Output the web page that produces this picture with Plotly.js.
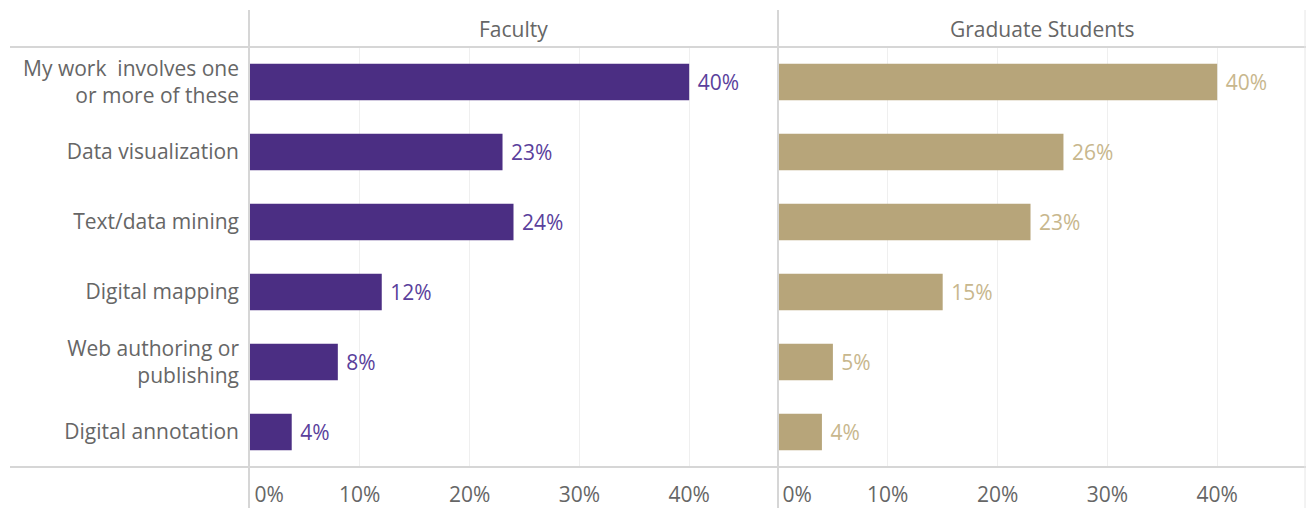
<!DOCTYPE html>
<html>
<head>
<meta charset="utf-8">
<script src="https://cdn.plot.ly/plotly-3.0.1.min.js"></script>
<style>html,body{margin:0;padding:0;background:#fff;}#chart{width:1308px;height:508px;}</style>
</head>
<body>
<div id="chart"></div>
<script>
const categories = ["My work  involves one<br>or more of these", "Data visualization", "Text/data mining", "Digital mapping", "Web authoring or<br>publishing", "Digital annotation"];
const panels = ["Faculty", "Graduate Students"];
const facultyValues = [40, 23, 24, 12, 8, 3.8];
const gradValues = [40, 26, 23, 15, 5, 4];
const tickValues = [0, 10, 20, 30, 40];
const tickLabels = ["\u00a0\u00a0\u00a0\u00a0\u00a0\u00a0\u00a00%", "10%", "20%", "30%", "40%"];

const FONT = "Open Sans, sans-serif";
const GRAY = "#666666";
const LINE = "#d6d6d6";
const FS = 21;

function pct(v){ return "\u00a0" + Math.round(v) + "%"; }

const traces = [
  {type:"bar", orientation:"h", y:categories, x:facultyValues, xaxis:"x", yaxis:"y",
   marker:{color:"#4b2e83"}, text:facultyValues.map(pct), textposition:"outside",
   textfont:{family:FONT, size:FS, color:"#5a3f9c"}, cliponaxis:false, hoverinfo:"skip"},
  {type:"bar", orientation:"h", y:categories, x:gradValues, xaxis:"x2", yaxis:"y",
   marker:{color:"#b7a57a"}, text:gradValues.map(pct), textposition:"outside",
   textfont:{family:FONT, size:FS, color:"#c8b78d"}, cliponaxis:false, hoverinfo:"skip"}
];

const xCommon = {range:[0,48], tickvals:tickValues, ticktext:tickLabels, showgrid:true,
  gridcolor:"#efefef", gridwidth:1, zeroline:false, showline:false, ticks:"",
  ticklabelstandoff:13, tickfont:{family:FONT, size:FS, color:GRAY}, fixedrange:true};

const px = v => (v - 250) / 1055;
const py = v => (467 - v) / 420;

const shapes = [
  {type:"line", xref:"paper", yref:"paper", x0:px(10), x1:px(1306), y0:py(47), y1:py(47), line:{color:LINE, width:2}},
  {type:"line", xref:"paper", yref:"paper", x0:px(10), x1:px(1306), y0:py(467), y1:py(467), line:{color:LINE, width:2}},
  {type:"line", xref:"paper", yref:"paper", x0:px(249), x1:px(249), y0:py(10), y1:py(508), line:{color:LINE, width:2}},
  {type:"line", xref:"paper", yref:"paper", x0:px(778), x1:px(778), y0:py(10), y1:py(508), line:{color:LINE, width:2}},
  {type:"line", xref:"paper", yref:"paper", x0:px(1305), x1:px(1305), y0:py(10), y1:py(508), line:{color:"#e6e6e6", width:1}}
];

const annotations = [
  {text:panels[0], xref:"paper", yref:"paper", x:px(513), y:py(29), showarrow:false,
   font:{family:FONT, size:FS, color:GRAY}, xanchor:"center", yanchor:"middle"},
  {text:panels[1], xref:"paper", yref:"paper", x:px(1042), y:py(29), showarrow:false,
   font:{family:FONT, size:FS, color:GRAY}, xanchor:"center", yanchor:"middle"}
];

const layout = {
  width:1308, height:508,
  margin:{l:250, r:3, t:47, b:41, pad:0},
  paper_bgcolor:"#fff", plot_bgcolor:"#fff",
  showlegend:false, bargap:0.48,
  xaxis:Object.assign({domain:[0, 527/1055], anchor:"y"}, xCommon),
  xaxis2:Object.assign({domain:[528/1055, 1], anchor:"y"}, xCommon),
  yaxis:{autorange:"reversed", showgrid:false, zeroline:false, showline:false, ticks:"",
    ticklabelstandoff:10, tickfont:{family:FONT, size:FS, color:GRAY}, fixedrange:true},
  shapes:shapes, annotations:annotations,
  font:{family:FONT, color:GRAY}
};

Plotly.newPlot("chart", traces, layout, {displayModeBar:false, staticPlot:true});
</script>
</body>
</html>
